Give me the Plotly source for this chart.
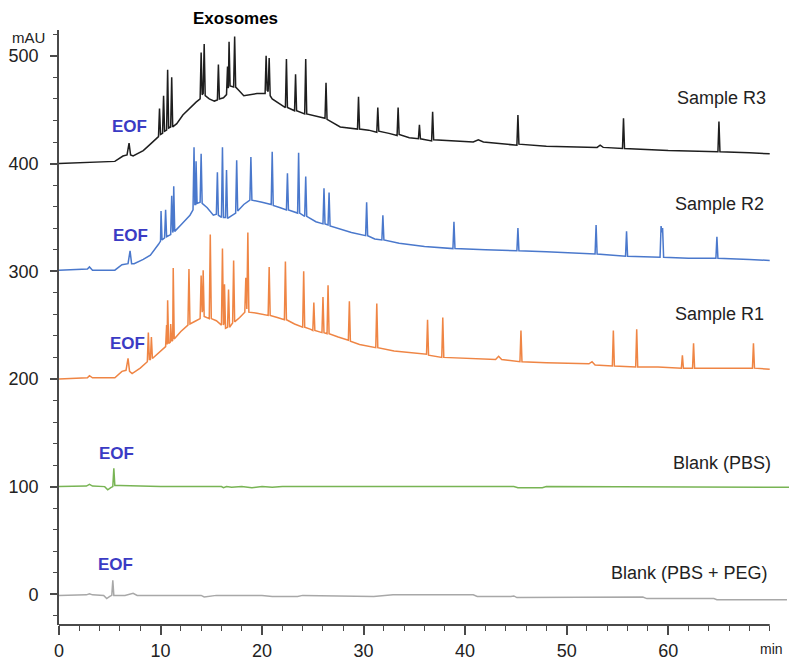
import plotly.graph_objects as go

# Electropherograms (time in min, absorbance in mAU), each trace stacked on its own offset
SAMPLE_R3 = [
    (0, 400), (3.0, 401), (5.5, 402), (6.3, 407), (6.7, 408), (6.9, 419), (7.05, 408), (7.3, 407),
    (8.3, 412), (9.0, 418), (9.6, 424), (9.8, 425), (9.9, 451), (10.0, 427), (10.2, 428), (10.3, 463),
    (10.4, 430), (10.6, 431), (10.7, 487), (10.8, 433), (11.0, 434), (11.1, 480), (11.2, 434),
    (11.6, 437), (12.2, 445), (12.9, 452), (13.5, 457), (13.9, 460), (14.0, 503), (14.1, 464),
    (14.2, 465), (14.3, 511), (14.4, 463), (14.8, 460), (15.3, 458), (15.6, 459), (15.7, 492),
    (15.8, 460), (16.2, 461), (16.5, 464), (16.6, 490), (16.68, 470), (16.75, 513), (16.85, 472),
    (17.2, 471), (17.3, 518), (17.4, 471), (17.7, 468), (18.2, 463), (19.5, 465), (20.3, 465),
    (20.4, 500), (20.5, 468), (20.6, 467), (20.7, 498), (20.8, 463), (21.0, 460), (22.3, 452),
    (22.4, 497), (22.5, 452), (23.2, 449), (23.3, 483), (23.4, 449), (24.2, 446), (24.3, 497),
    (24.4, 446), (25.3, 444), (26.2, 442), (26.3, 475), (26.4, 441), (27.7, 434), (29.4, 432),
    (29.5, 462), (29.6, 432), (30.5, 431), (31.3, 429), (31.4, 452), (31.5, 430), (32.5, 428),
    (33.3, 426), (33.4, 452), (33.5, 427), (34.5, 424), (35.4, 423), (35.5, 436), (35.6, 423),
    (36.7, 421), (36.8, 448), (36.9, 422), (38.5, 421), (40.8, 420), (41.3, 422), (41.8, 420),
    (45.1, 417), (45.2, 445), (45.3, 418), (48, 416), (53.0, 415), (53.3, 417), (53.6, 415),
    (55.5, 414), (55.6, 442), (55.7, 414), (60, 412), (64.9, 411), (65.0, 439), (65.1, 411),
    (68, 410), (70, 409),
]

SAMPLE_R2 = [
    (0, 301), (2.8, 302), (3.0, 304), (3.3, 301), (5.5, 301), (6.2, 306), (6.8, 307), (7.0, 319),
    (7.15, 307), (7.4, 307), (8.3, 311), (9.0, 315), (9.8, 325), (10.0, 328), (10.05, 356),
    (10.15, 329), (10.4, 331), (10.5, 357), (10.6, 332), (11.0, 334), (11.1, 370), (11.2, 336),
    (11.25, 338), (11.3, 379), (11.4, 337), (12.0, 343), (12.9, 352), (13.2, 357), (13.3, 415),
    (13.38, 362), (13.45, 362), (13.5, 402), (13.6, 363), (13.9, 364), (14.0, 409), (14.1, 363),
    (14.6, 359), (15.2, 352), (15.5, 353), (15.6, 392), (15.7, 352), (16.0, 350), (16.1, 415),
    (16.2, 350), (16.4, 350), (16.5, 394), (16.6, 349), (16.9, 351), (17.4, 354), (17.5, 403),
    (17.6, 356), (18.2, 362), (18.8, 366), (18.9, 406), (19.0, 366), (20.0, 364), (20.9, 362),
    (21.0, 411), (21.1, 361), (21.8, 359), (22.4, 357), (22.5, 391), (22.6, 357), (23.5, 354),
    (23.6, 410), (23.7, 354), (24.2, 351), (24.3, 388), (24.4, 351), (25.3, 346), (26.0, 344),
    (26.1, 377), (26.2, 344), (26.5, 343), (26.6, 373), (26.7, 342), (27.7, 339), (28.8, 336),
    (30.2, 333), (30.3, 364), (30.4, 333), (31.1, 330), (31.8, 329), (31.9, 352), (32.0, 329),
    (33.5, 326), (36, 323), (38.8, 321), (38.9, 346), (39.0, 321), (42, 320), (45.1, 319),
    (45.2, 340), (45.3, 319), (48, 318), (52.8, 316), (52.9, 343), (53.0, 316), (55.8, 314),
    (55.9, 337), (56.0, 314), (59.2, 313), (59.3, 342), (59.38, 336), (59.45, 340), (59.55, 313),
    (62, 312), (64.7, 312), (64.8, 332), (64.9, 312), (68, 311), (70, 310),
]

SAMPLE_R1 = [
    (0, 200), (2.8, 201), (3.0, 203), (3.3, 201), (5.5, 201), (6.2, 207), (6.6, 208), (6.8, 219),
    (6.95, 207), (7.2, 205), (8.0, 210), (8.7, 216), (8.8, 243), (8.9, 218), (9.0, 218), (9.1, 239),
    (9.2, 219), (9.8, 224), (10.5, 230), (10.6, 250), (10.65, 232), (10.7, 273), (10.8, 233),
    (10.95, 234), (11.0, 251), (11.1, 235), (11.2, 236), (11.25, 303), (11.35, 237), (12.0, 244),
    (12.7, 250), (12.8, 302), (12.9, 251), (13.5, 254), (13.9, 256), (14.0, 296), (14.1, 262),
    (14.15, 264), (14.2, 301), (14.3, 258), (14.8, 256), (14.9, 334), (15.0, 256), (15.5, 254),
    (16.0, 250), (16.1, 321), (16.2, 250), (16.25, 252), (16.3, 288), (16.4, 247), (16.6, 248),
    (16.7, 283), (16.8, 248), (17.1, 252), (17.2, 310), (17.3, 253), (17.8, 257), (18.3, 262),
    (18.4, 294), (18.5, 265), (18.6, 336), (18.7, 262), (19.5, 261), (20.6, 259), (20.7, 304),
    (20.8, 259), (21.5, 257), (22.2, 255), (22.3, 309), (22.4, 255), (23.2, 251), (24.0, 248),
    (24.1, 300), (24.2, 248), (24.8, 246), (25.0, 245), (25.1, 271), (25.2, 245), (25.9, 243),
    (26.0, 276), (26.1, 243), (26.4, 242), (26.5, 287), (26.6, 242), (27.5, 239), (28.5, 236),
    (28.6, 272), (28.7, 235), (29.6, 232), (31.2, 229), (31.3, 270), (31.4, 229), (33, 226),
    (36.2, 223), (36.3, 255), (36.4, 222), (37.7, 220), (37.8, 257), (37.9, 220), (40, 219),
    (43.0, 218), (43.3, 221), (43.6, 218), (45.4, 216), (45.5, 245), (45.6, 216), (48, 215),
    (52.2, 214), (52.5, 216), (52.8, 213), (54.5, 212), (54.6, 245), (54.7, 212), (56.8, 211),
    (56.9, 246), (57.0, 211), (59, 211), (61.3, 210), (61.4, 222), (61.5, 210), (62.4, 210),
    (62.5, 233), (62.6, 210), (66, 210), (68.3, 210), (68.4, 233), (68.5, 210), (70, 209),
]

BLANK_PBS = [
    (0, 100), (2.7, 100.5), (3.0, 102), (3.3, 100.5), (4.5, 100), (4.8, 97), (5.1, 99), (5.3, 100),
    (5.4, 117), (5.5, 101), (6.0, 101), (8.0, 100.5), (10, 100), (16, 100), (16.2, 99), (16.5, 100),
    (17, 99.5), (18, 100), (19, 99), (20, 100), (21, 99.5), (22, 100), (23, 100), (44.8, 100),
    (45.2, 99), (47.6, 99), (48, 100), (57.5, 100), (57.9, 99.3), (71.9, 99.3),
]

BLANK_PBS_PEG = [
    (0, -1), (2.7, -0.5), (3.0, 0.5), (3.3, -0.5), (4.4, -1), (4.7, -4), (5.0, -2), (5.2, -1),
    (5.3, 13), (5.4, -1), (6.5, -1), (7.0, 0.5), (7.3, 1), (7.7, -1), (14, -1), (14.3, -2.5),
    (15, -2), (15.5, -1), (20, -1), (21, -2), (23.5, -2), (24, -1), (31, -2), (32.9, -0.5),
    (40.8, -0.5), (41.2, -2), (44.5, -2), (44.8, -1.5), (45.1, -3), (51.6, -3), (52, -2.5),
    (57.5, -2.5), (57.9, -4), (64.5, -4), (64.8, -5), (71.7, -5),
]

SERIES = [
    ("Sample R3", SAMPLE_R3, "#1e1e1e"),
    ("Sample R2", SAMPLE_R2, "#4a78cc"),
    ("Sample R1", SAMPLE_R1, "#ef8544"),
    ("Blank (PBS)", BLANK_PBS, "#78b454"),
    ("Blank (PBS + PEG)", BLANK_PBS_PEG, "#a8a8a8"),
]

# Trace names placed at the right end of each trace: (text, time, mAU)
TRACE_LABELS = [
    ("Sample R3", 65.3, 461),
    ("Sample R2", 65.1, 362),
    ("Sample R1", 65.1, 260),
    ("Blank (PBS)", 65.3, 122),
    ("Blank (PBS + PEG)", 62.1, 20),
]

# Electroosmotic-flow markers: (time, mAU)
EOF_LABELS = [(6.9, 434), (7.0, 333), (6.7, 233), (5.7, 131), (5.6, 28)]

X_TICKS = [0, 10, 20, 30, 40, 50, 60]
Y_TICKS = [0, 100, 200, 300, 400, 500]

TEXT = "#222222"
AXIS = "#4a4a4a"
FONT = "Liberation Sans, Arial, sans-serif"

fig = go.Figure()
for name, pts, color in SERIES:
    t = [p[0] for p in pts]
    v = [p[1] for p in pts]
    fig.add_trace(go.Scatter(x=t, y=v, mode="lines", name=name,
                             line=dict(color=color, width=1.5), showlegend=False,
                             cliponaxis=False))

annotations = []
for text, t, v in TRACE_LABELS:
    annotations.append(dict(x=t, y=v, xref="x", yref="y", text=text, showarrow=False,
                            xanchor="center", yanchor="middle",
                            font=dict(family=FONT, size=18, color=TEXT)))
for t, v in EOF_LABELS:
    annotations.append(dict(x=t, y=v, xref="x", yref="y", text="<b>EOF</b>", showarrow=False,
                            xanchor="center", yanchor="middle",
                            font=dict(family=FONT, size=17, color="#3b3bc4")))
# Titles sitting outside the plotting area use paper coordinates
annotations.append(dict(x=17.4 / 71.9, y=1.02, xref="paper", yref="paper", text="<b>Exosomes</b>",
                        xanchor="center", yanchor="middle", showarrow=False,
                        font=dict(family=FONT, size=17, color="#000000")))
annotations.append(dict(x=-0.042, y=0.988, xref="paper", yref="paper", text="mAU",
                        xanchor="center", yanchor="middle", showarrow=False,
                        font=dict(family=FONT, size=15, color=TEXT)))
annotations.append(dict(x=70.2, y=-0.04, xref="x", yref="paper", text="min", showarrow=False,
                        xanchor="center", yanchor="middle",
                        font=dict(family=FONT, size=14, color=TEXT)))

fig.update_layout(
    width=789, height=661,
    margin=dict(l=59, r=0, t=30, b=30),
    paper_bgcolor="white", plot_bgcolor="white",
    font=dict(family=FONT, size=18, color=TEXT),
    annotations=annotations,
    shapes=[dict(type="line", xref="x", yref="paper", x0=0, x1=70, y0=0, y1=0,
                 line=dict(color=AXIS, width=1.8))],
    xaxis=dict(range=[0, 71.9], showgrid=False, zeroline=False, showline=False,
               tickvals=X_TICKS, ticks="outside", ticklen=9, tickwidth=1.5, tickcolor=AXIS,
               tickfont=dict(size=18, color=TEXT),
               minor=dict(dtick=2, tick0=0, ticks="outside", ticklen=5, tickwidth=1.2,
                          tickcolor=AXIS, showgrid=False)),
    yaxis=dict(range=[-28.5, 524], showgrid=False, zeroline=False, showline=True,
               linecolor=AXIS, linewidth=1.8, ticklabelstandoff=8,
               tickvals=Y_TICKS, ticks="outside", ticklen=7, tickwidth=1.5, tickcolor=AXIS,
               tickfont=dict(size=18, color=TEXT),
               minor=dict(dtick=20, tick0=0, ticks="outside", ticklen=4, tickwidth=1.2,
                          tickcolor=AXIS, showgrid=False)),
)

fig.write_html("out.html")
